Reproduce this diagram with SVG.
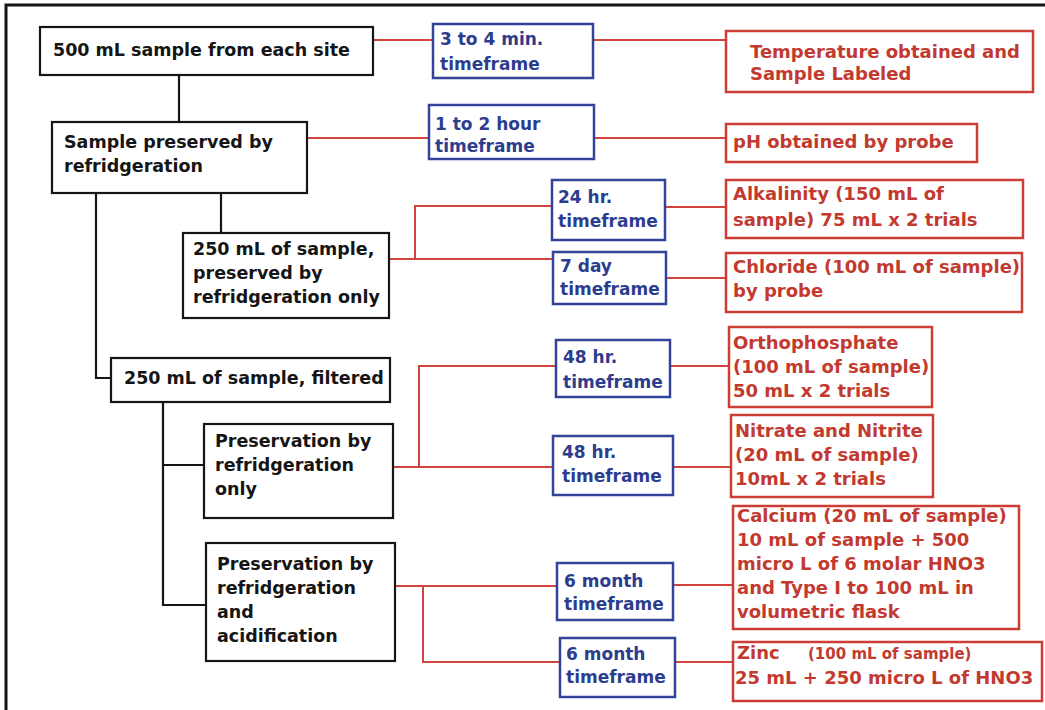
<svg xmlns="http://www.w3.org/2000/svg" width="1045" height="710" viewBox="0 0 1045 710">
<style>
  text { font-family: "DejaVu Sans", "Liberation Sans", sans-serif; font-weight: bold; }
  .bk { fill: #fff; stroke: #151515; stroke-width: 2.2; }
  .bl { fill: #fff; stroke: #33439a; stroke-width: 2.5; }
  .rd { fill: #fff; stroke: #cc3d36; stroke-width: 2.5; }
  .tk { fill: #151515; font-size: 17.5px; }
  .tb { fill: #2d3d8e; font-size: 17px; }
  .tr { fill: #c23a2f; font-size: 18px; }
  .ck { fill: none; stroke: #151515; stroke-width: 2.2; }
  .cr { fill: none; stroke: #d0433e; stroke-width: 2; }
</style>
<rect width="1045" height="710" fill="#fff"/>
<g id="frame">
  <path d="M6 710 V5 H1045" fill="none" stroke="#151515" stroke-width="3"/>
</g>
<g id="connectors">
  <path class="ck" d="M179 75 V122"/>
  <path class="ck" d="M221 193 V233"/>
  <path class="ck" d="M96 193 V378 H111"/>
  <path class="ck" d="M163 402 V605 H206 M163 465 H204"/>
  <path class="cr" d="M373 40 H433 M593 40 H726"/>
  <path class="cr" d="M307 138 H429 M594 138 H726"/>
  <path class="cr" d="M389 259 H553 M415 259 V206 H552 M665 207 H726 M666 278 H726"/>
  <path class="cr" d="M393 467 H553 M419 467 V366 H556 M670 366 H729 M673 467 H731"/>
  <path class="cr" d="M395 586 H557 M423 586 V662 H560 M673 585 H733 M675 662 H733"/>
</g>
<g id="n1"><rect class="bk" x="40" y="27" width="333" height="48"/><text class="tk" x="53" y="56">500 mL sample from each site</text></g>
<g id="n2"><rect class="bk" x="52" y="122" width="255" height="71"/><text class="tk" x="64" y="148">Sample preserved by</text><text class="tk" x="64" y="172">refridgeration</text></g>
<g id="n3"><rect class="bk" x="183" y="233" width="206" height="85"/><text class="tk" x="193" y="255">250 mL of sample,</text><text class="tk" x="193" y="279">preserved by</text><text class="tk" x="193" y="303">refridgeration only</text></g>
<g id="n4"><rect class="bk" x="111" y="358" width="279" height="44"/><text class="tk" x="124" y="384">250 mL of sample, filtered</text></g>
<g id="n5"><rect class="bk" x="204" y="424" width="189" height="94"/><text class="tk" x="215" y="447">Preservation by</text><text class="tk" x="215" y="471">refridgeration</text><text class="tk" x="215" y="495">only</text></g>
<g id="n6"><rect class="bk" x="206" y="543" width="189" height="118"/><text class="tk" x="217" y="570">Preservation by</text><text class="tk" x="217" y="594">refridgeration</text><text class="tk" x="217" y="618">and</text><text class="tk" x="217" y="642">acidification</text></g>
<g id="t1"><rect class="bl" x="433" y="24" width="160" height="54"/><text class="tb" x="440" y="45">3 to 4 min.</text><text class="tb" x="440" y="70">timeframe</text></g>
<g id="t2"><rect class="bl" x="429" y="105" width="165" height="54"/><text class="tb" x="435" y="130">1 to 2 hour</text><text class="tb" x="435" y="152">timeframe</text></g>
<g id="t3"><rect class="bl" x="552" y="180" width="113" height="60"/><text class="tb" x="558" y="203">24 hr.</text><text class="tb" x="558" y="227">timeframe</text></g>
<g id="t4"><rect class="bl" x="553" y="252" width="113" height="52"/><text class="tb" x="560" y="272">7 day</text><text class="tb" x="560" y="295">timeframe</text></g>
<g id="t5"><rect class="bl" x="556" y="340" width="114" height="57"/><text class="tb" x="563" y="363">48 hr.</text><text class="tb" x="563" y="388">timeframe</text></g>
<g id="t6"><rect class="bl" x="553" y="436" width="120" height="59"/><text class="tb" x="562" y="458">48 hr.</text><text class="tb" x="562" y="482">timeframe</text></g>
<g id="t7"><rect class="bl" x="557" y="563" width="116" height="57"/><text class="tb" x="564" y="587">6 month</text><text class="tb" x="564" y="610">timeframe</text></g>
<g id="t8"><rect class="bl" x="560" y="638" width="115" height="59"/><text class="tb" x="566" y="660">6 month</text><text class="tb" x="566" y="683">timeframe</text></g>
<g id="r1"><rect class="rd" x="726" y="31" width="307" height="61"/><text class="tr" x="750" y="58">Temperature obtained and</text><text class="tr" x="750" y="80">Sample Labeled</text></g>
<g id="r2"><rect class="rd" x="726" y="124" width="251" height="38"/><text class="tr" x="733" y="148">pH obtained by probe</text></g>
<g id="r3"><rect class="rd" x="726" y="180" width="297" height="58"/><text class="tr" x="733" y="200">Alkalinity (150 mL of</text><text class="tr" x="733" y="226">sample) 75 mL x 2 trials</text></g>
<g id="r4"><rect class="rd" x="726" y="253" width="296" height="59"/><text class="tr" x="733" y="273">Chloride (100 mL of sample)</text><text class="tr" x="733" y="297">by probe</text></g>
<g id="r5"><rect class="rd" x="729" y="327" width="203" height="80"/><text class="tr" x="733" y="349">Orthophosphate</text><text class="tr" x="733" y="373">(100 mL of sample)</text><text class="tr" x="733" y="397">50 mL x 2 trials</text></g>
<g id="r6"><rect class="rd" x="731" y="415" width="202" height="82"/><text class="tr" x="735" y="437">Nitrate and Nitrite</text><text class="tr" x="735" y="461">(20 mL of sample)</text><text class="tr" x="735" y="485">10mL x 2 trials</text></g>
<g id="r7"><rect class="rd" x="733" y="506" width="286" height="123"/><text class="tr" x="737" y="522">Calcium (20 mL of sample)</text><text class="tr" x="737" y="546">10 mL of sample + 500</text><text class="tr" x="737" y="570">micro L of 6 molar HNO3</text><text class="tr" x="737" y="594">and Type I to 100 mL in</text><text class="tr" x="737" y="618">volumetric flask</text></g>
<g id="r8"><rect class="rd" x="733" y="642" width="309" height="59"/><text class="tr" x="737" y="659">Zinc</text><text class="tr" x="808" y="659" style="font-size:15px">(100 mL of sample)</text><text class="tr" x="735" y="684">25 mL + 250 micro L of HNO3</text></g>
</svg>
